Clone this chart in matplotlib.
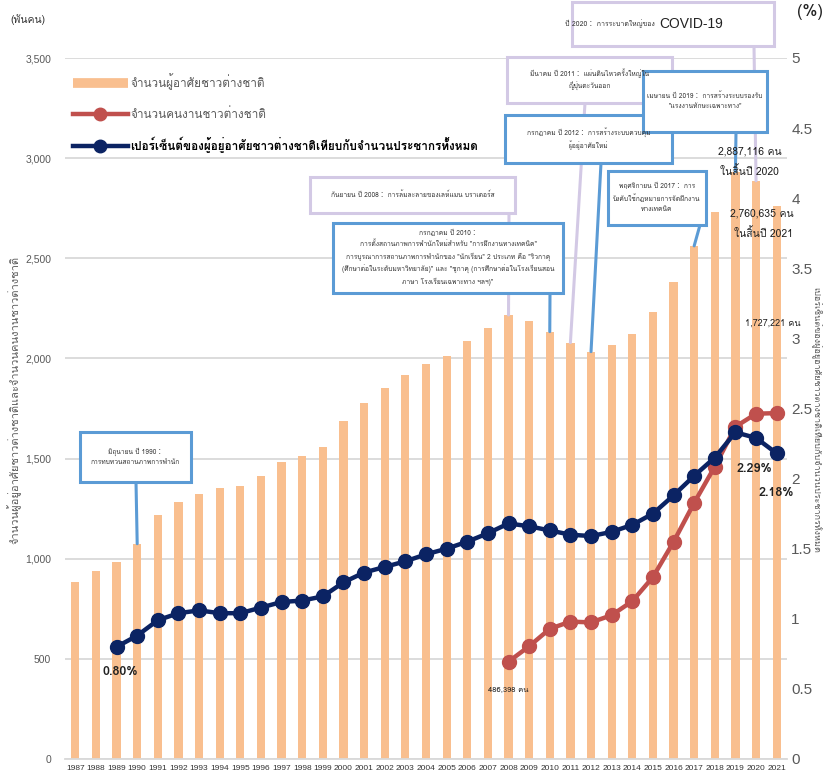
import matplotlib
matplotlib.use("Agg")
import matplotlib.pyplot as plt
from matplotlib import font_manager, ft2font
from matplotlib.patches import Rectangle
from matplotlib.lines import Line2D
import numpy as np


def thai_font():
    # pick any installed font that actually has Thai glyphs
    for f in font_manager.fontManager.ttflist:
        try:
            if 0x0E01 in ft2font.FT2Font(f.fname).get_charmap():
                return f.name
        except Exception:
            pass
    return "DejaVu Sans"


TH = thai_font()
FAM = [TH, 'Noto Sans CJK JP', 'Liberation Sans', 'DejaVu Sans']
plt.rcParams['font.family'] = FAM

## DATA

years = list(range(1987, 2022))
residents = [884, 941, 984, 1075, 1219, 1282, 1321, 1354, 1362, 1415,
             1483, 1512, 1556, 1686, 1778, 1852, 1915, 1974, 2012, 2085,
             2153, 2217, 2186, 2134, 2079, 2034, 2066, 2122, 2232, 2383,
             2562, 2731, 2933, 2887, 2761]
worker_years = list(range(2008, 2022))
workers = [486, 563, 650, 686, 682, 718, 788, 908, 1084, 1279, 1460, 1659, 1724, 1727]
pct_years = list(range(1989, 2022))
pct = [0.80, 0.88, 0.99, 1.04, 1.06, 1.04, 1.04, 1.08, 1.12, 1.13, 1.16,
       1.26, 1.33, 1.37, 1.41, 1.46, 1.50, 1.55, 1.61, 1.68, 1.66, 1.63,
       1.60, 1.59, 1.62, 1.67, 1.75, 1.88, 2.02, 2.15, 2.33, 2.29, 2.18]

lbl_res = "จำนวนผู้อาศัยชาวต่างชาติ"
lbl_wrk = "จำนวนคนงานชาวต่างชาติ"
lbl_pct = "เปอร์เซ็นต์ของผู้อยู่อาศัยชาวต่างชาติเทียบกับจำนวนประชากรทั้งหมด"

# (year, text, box in image pixels x0,y0,x1,y1, line start x, border colour)
notes = [
    (1990, "มิถุนายน ปี 1990：\nการทบทวนสถานภาพการพำนัก",
     (80, 432, 191, 482), 136, "blue"),
    (2008, "กันยายน ปี 2008： การล้มละลายของเลห์แมน บราเดอร์ส",
     (310, 177, 515, 213), 509, "lav"),
    (2010, "กรกฎาคม ปี 2010：\nการตั้งสถานภาพการพำนักใหม่สำหรับ \"การฝึกงานทางเทคนิค\"\n"
           "การบูรณาการสถานภาพการพำนักของ \"นักเรียน\" 2 ประเภท คือ \"ริวกาคุ\n"
           "(ศึกษาต่อในระดับมหาวิทยาลัย)\" และ \"ชูกาคุ (การศึกษาต่อในโรงเรียนสอน\n"
           "ภาษา โรงเรียนเฉพาะทาง ฯลฯ)\"",
     (333, 223, 563, 293), 550, "blue"),
    (2011, "มีนาคม ปี 2011： แผ่นดินไหวครั้งใหญ่ใน\nญี่ปุ่นตะวันออก",
     (507, 57, 672, 103), 585, "lav"),
    (2012, "กรกฎาคม ปี 2012： การสร้างระบบควบคุม\nผู้อยู่อาศัยใหม่",
     (505, 115, 672, 163), 601, "blue"),
    (2017, "พฤศจิกายน ปี 2017： การ\nบังคับใช้กฎหมายการจัดฝึกงาน\nทางเทคนิค",
     (608, 171, 706, 225), 700, "blue"),
    (2019, "เมษายน ปี 2019： การสร้างระบบรองรับ\n\"แรงงานทักษะเฉพาะทาง\"",
     (643, 71, 767, 132), 736, "blue"),
]

# COLOURS
c_bar = "#F9BF8F"
c_red = "#C0504D"
c_navy = "#0B2363"
c_blue = "#5B9BD5"
c_lav = "#D3C9E5"
c_grid = "#D9D9D9"
c_txt = "#595959"

W, H = 823, 775
fig = plt.figure(figsize=(W / 100, H / 100), dpi=100)
ax = fig.add_axes([65 / W, 16 / H, 722 / W, 701 / H])
ax2 = ax.twinx()

ax.bar(years, residents, width=0.4, color=c_bar, zorder=2)
ax.set_xlim(1986.5, 2021.5)
ax.set_ylim(0, 3500)
ax.set_yticks(np.arange(0, 3501, 500))
ax.set_yticklabels([f"{v:,}" for v in range(0, 3501, 500)])
ax.set_xticks(years)
ax.set_xticklabels([str(y) for y in years], fontsize=6, color="#333333",
                   family=['Liberation Sans Narrow', 'Liberation Sans'])
ax.tick_params(axis='y', length=0, labelsize=7.5, labelcolor=c_txt, pad=10)
ax.tick_params(axis='x', length=0, pad=4)
for t in ax.get_yticklabels():
    t.set_family(['Liberation Sans', 'DejaVu Sans'])
ax.grid(axis='y', color=c_grid, lw=1.3, zorder=0)
ax.set_axisbelow(True)
for s in ["top", "right", "left"]:
    ax.spines[s].set_visible(False)
ax.spines["bottom"].set_color(c_grid)
ax.spines["bottom"].set_linewidth(1.3)

ax.plot(worker_years, workers, color=c_red, lw=3.2, marker='o', ms=10, zorder=4)

ax2.plot(pct_years, pct, color=c_navy, lw=3.2, marker='o', ms=10, zorder=4)
ax2.set_ylim(0, 5)
ax2.set_yticks(np.arange(0, 5.01, 0.5))
ax2.set_yticklabels(["0", "0.5", "1", "1.5", "2", "2.5", "3", "3.5", "4", "4.5", "5"])
ax2.tick_params(axis='y', length=0, labelsize=11, labelcolor=c_txt, pad=3)
for t in ax2.get_yticklabels():
    t.set_family(['Liberation Sans', 'DejaVu Sans'])
for s in ["top", "right", "left", "bottom"]:
    ax2.spines[s].set_visible(False)
ax.set_zorder(ax2.get_zorder() - 1)
ax.patch.set_visible(False)

# axis titles
fig.text(10 / W, 1 - 20 / H, "(พันคน)", fontsize=7.5, color="#333333", va="center")
fig.text(810 / W, 1 - 12 / H, "(%)", fontsize=12, color="#222222", va="center", ha="center")
fig.text(14 / W, 1 - 400 / H, "จำนวนผู้อยู่อาศัยชาวต่างชาติและจำนวนคนงานชาวต่างชาติ",
         rotation=90, fontsize=8, color=c_txt, ha="center", va="center")
fig.text(817 / W, 1 - 420 / H, lbl_pct, rotation=-90, fontsize=6.5, color=c_txt,
         ha="center", va="center")

# legend
handles = [
    Line2D([], [], color=c_bar, lw=7, solid_capstyle='butt'),
    Line2D([], [], color=c_red, lw=3.2, marker='o', ms=9),
    Line2D([], [], color=c_navy, lw=3.2, marker='o', ms=9),
]
leg = ax.legend(handles, [lbl_res, lbl_wrk, lbl_pct], loc="upper left",
                bbox_to_anchor=(0.005, 0.985), frameon=False, handlelength=4.6,
                labelspacing=1.45, fontsize=8.5, handletextpad=0.25, borderaxespad=0)
for t, c in zip(leg.get_texts(), [c_txt, c_txt, "black"]):
    t.set_color(c)
leg.get_texts()[2].set_fontweight("bold")

# annotation boxes
for yr, txt, (x0, y0, x1, y1), lx, kind in notes:
    ec = c_blue if kind == "blue" else c_lav
    fig.patches.append(Rectangle((x0, H - y1), x1 - x0, y1 - y0, transform=None,
                                 facecolor="white", edgecolor=ec, lw=2.2, zorder=5))
    fig.text((x0 + x1) / 2 / W, 1 - (y0 + y1) / 2 / H, txt, fontsize=4.8,
             ha="center", va="center", color="#333333", linespacing=1.6, zorder=6)
    ax.annotate("", xy=(yr, residents[years.index(yr)]), xycoords="data",
                xytext=(lx, H - y1), textcoords="figure pixels",
                arrowprops=dict(arrowstyle="-", color=ec, lw=2.2, shrinkA=0, shrinkB=0),
                zorder=3, annotation_clip=False)

# COVID box (title larger)
x0, y0, x1, y1 = 572, 2, 774, 46
fig.patches.append(Rectangle((x0, H - y1), x1 - x0, y1 - y0, transform=None,
                             facecolor="white", edgecolor=c_lav, lw=2.2, zorder=5))
fig.text(655 / W, 1 - 24 / H, "ปี 2020： การระบาดใหญ่ของ", fontsize=5,
         ha="right", va="center", color="#333333", zorder=6)
fig.text(659 / W, 1 - 24 / H, "COVID-19", fontsize=10, ha="left", va="center",
         color="#222222", zorder=6, family=['Liberation Sans', 'DejaVu Sans'])
ax.annotate("", xy=(2020, residents[years.index(2020)]), xycoords="data",
            xytext=(754, H - y1), textcoords="figure pixels",
            arrowprops=dict(arrowstyle="-", color=c_lav, lw=2.2, shrinkA=0, shrinkB=0),
            zorder=3, annotation_clip=False)

# value labels
ax.text(2019.7, 2905, "2,887,116 คน\nในสิ้นปี 2020", fontsize=7.5, ha="center",
        va="bottom", color="#222222", linespacing=1.9, zorder=7)
ax.text(2021.8, 2595, "2,760,635 คน\nในสิ้นปี 2021", fontsize=7.5, ha="right",
        va="bottom", color="#222222", linespacing=1.9, zorder=7)
ax.text(2020.8, 2177, "1,727,221 คน", fontsize=6.5, ha="center", va="center",
        color="#222222", zorder=7)
ax.text(2008, 360, "486,398 คน", fontsize=5.5, ha="center", va="top",
        color="#222222", zorder=7)
ax2.text(1989.2, 0.62, "0.80%", fontsize=9, fontweight="bold", ha="center",
         va="center", color="#222222", zorder=7)
ax2.text(2019.9, 2.07, "2.29%", fontsize=9, fontweight="bold", ha="center",
         va="center", color="#222222", zorder=7)
ax2.text(2021.0, 1.90, "2.18%", fontsize=9, fontweight="bold", ha="center",
         va="center", color="#222222", zorder=7)

plt.savefig("out.png", dpi=100)
plt.close()
